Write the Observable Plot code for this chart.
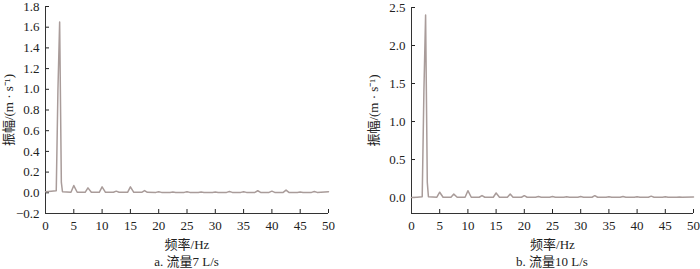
<!DOCTYPE html>
<html><head><meta charset="utf-8">
<script src="https://cdn.jsdelivr.net/npm/d3@7"></script>
<script src="https://cdn.jsdelivr.net/npm/@observablehq/plot@0.6"></script>
<style>
body{margin:0;background:#fff;}
#wrap{position:relative;width:700px;height:269px;font-family:"Liberation Serif","Noto Sans CJK SC",serif;color:#222;}
.panel{position:absolute;top:0;width:350px;height:269px;}
.cap{position:absolute;top:255px;font-size:13px;line-height:13px;text-align:center;}
</style></head>
<body><div id="wrap"></div>
<script>
// Panel a: 流量7 L/s
const freqA = [0,1.0,1.9,2.2,2.5,2.8,3.0,4.5,5.0,5.6,7.0,7.5,8.1,9.5,10.0,10.6,12.0,12.5,13.0,14.5,15.0,15.6,17.0,17.5,18.0,19.5,20.0,20.5,22.0,22.5,23.0,24.5,25.0,25.5,27.0,27.5,28.0,29.5,30.0,30.5,32.0,32.5,33.0,34.5,35.0,35.5,37.0,37.5,38.0,39.5,40.0,40.5,42.0,42.5,43.0,44.5,45.0,45.5,47.0,47.5,48.0,50.0];
const ampA  = [0.01,0.015,0.02,1.0,1.65,0.1,0.01,0.005,0.07,0.005,0.005,0.048,0.005,0.005,0.058,0.005,0.005,0.016,0.005,0.005,0.058,0.005,0.005,0.022,0.005,0.004,0.01,0.004,0.004,0.008,0.004,0.004,0.01,0.004,0.004,0.008,0.004,0.004,0.008,0.004,0.004,0.012,0.004,0.004,0.01,0.004,0.004,0.02,0.004,0.004,0.016,0.004,0.004,0.026,0.004,0.004,0.008,0.004,0.004,0.013,0.004,0.01];
// Panel b: 流量10 L/s
const freqB = [0,1.0,1.9,2.2,2.5,2.8,3.0,4.5,5.0,5.6,7.0,7.5,8.1,9.5,10.0,10.6,12.0,12.5,13.0,14.5,15.0,15.6,17.0,17.5,18.0,19.5,20.0,20.5,22.0,22.5,23.0,24.5,25.0,25.5,27.0,27.5,28.0,29.5,30.0,30.5,32.0,32.5,33.0,34.5,35.0,35.5,37.0,37.5,38.0,39.5,40.0,40.5,42.0,42.5,43.0,44.5,45.0,45.5,47.0,47.5,48.0,50.0];
const ampB  = [0.0,0.005,0.01,1.4,2.4,0.2,0.01,0.004,0.07,0.004,0.004,0.045,0.004,0.004,0.09,0.004,0.004,0.026,0.004,0.004,0.06,0.004,0.004,0.045,0.004,0.004,0.025,0.004,0.004,0.013,0.004,0.004,0.013,0.004,0.004,0.01,0.004,0.004,0.013,0.004,0.004,0.025,0.004,0.004,0.01,0.004,0.004,0.013,0.004,0.004,0.01,0.004,0.004,0.018,0.004,0.004,0.01,0.004,0.004,0.006,0.004,0.006];

const xTicks = [0,5,10,15,20,25,30,35,40,45,50];
const yTicksA = [-0.2,0,0.2,0.4,0.6,0.8,1.0,1.2,1.4,1.6,1.8];
const yTicksB = [0,0.5,1.0,1.5,2.0,2.5];
const yDomainA = [-0.2,1.8];
const yDomainB = [-0.21,2.5];
const xDomain = [0,50];
const yLabel = "振幅/(m · s⁻¹)";
const xLabel = "频率/Hz";
const captions = ["a. 流量7 L/s","b. 流量10 L/s"];
const lineColor = "#a99c9a";

function panel(freq, amp, yDomain, yTicks, ml, mr, mt, yOff) {
  const data = freq.map((f,i)=>({f, a: amp[i]}));
  return Plot.plot({
    width: 350, height: 269,
    marginLeft: ml, marginRight: mr, marginTop: mt, marginBottom: 56,
    style: {fontFamily: '"Liberation Serif","Noto Sans CJK SC",serif', fontSize: "13px", color: "#222", background: "#fff"},
    x: {domain: xDomain, ticks: xTicks, tickFormat: d3.format("d"), label: null},
    y: {domain: yDomain, ticks: yTicks, tickFormat: d3.format(".1f"), label: null},
    marks: [
      Plot.axisX({ticks: xTicks, tickSize: -4, tickPadding: 11, tickFormat: d3.format("d"), label: xLabel, labelAnchor: "center", labelArrow: "none", labelOffset: 35}),
      Plot.axisY({ticks: yTicks, tickSize: -4, tickPadding: 10, tickFormat: d => d3.format(".1f")(d).replace("-", "−"), label: yLabel, labelAnchor: "center", labelArrow: "none", labelOffset: yOff}),
      Plot.ruleX([xDomain[0]], {stroke: "#333"}),
      Plot.ruleY([yDomain[0]], {stroke: "#333"}),
      Plot.line(data, {x: "f", y: "a", stroke: lineColor, strokeWidth: 1.5})
    ]
  });
}

const wrap = document.getElementById("wrap");
const specs = [
  {freq: freqA, amp: ampA, dom: yDomainA, ticks: yTicksA, ml: 45, mr: 22, mt: 6, yOff: 42, left: 0},
  {freq: freqB, amp: ampB, dom: yDomainB, ticks: yTicksB, ml: 61, mr: 7, mt: 7, yOff: 43, left: 350}
];
specs.forEach((s, i) => {
  const div = document.createElement("div");
  div.className = "panel";
  div.style.left = s.left + "px";
  div.appendChild(panel(s.freq, s.amp, s.dom, s.ticks, s.ml, s.mr, s.mt, s.yOff));
  const cap = document.createElement("div");
  cap.className = "cap";
  cap.style.left = s.ml + "px";
  cap.style.width = (350 - s.ml - s.mr) + "px";
  cap.textContent = captions[i];
  div.appendChild(cap);
  wrap.appendChild(div);
});
</script></body></html>
